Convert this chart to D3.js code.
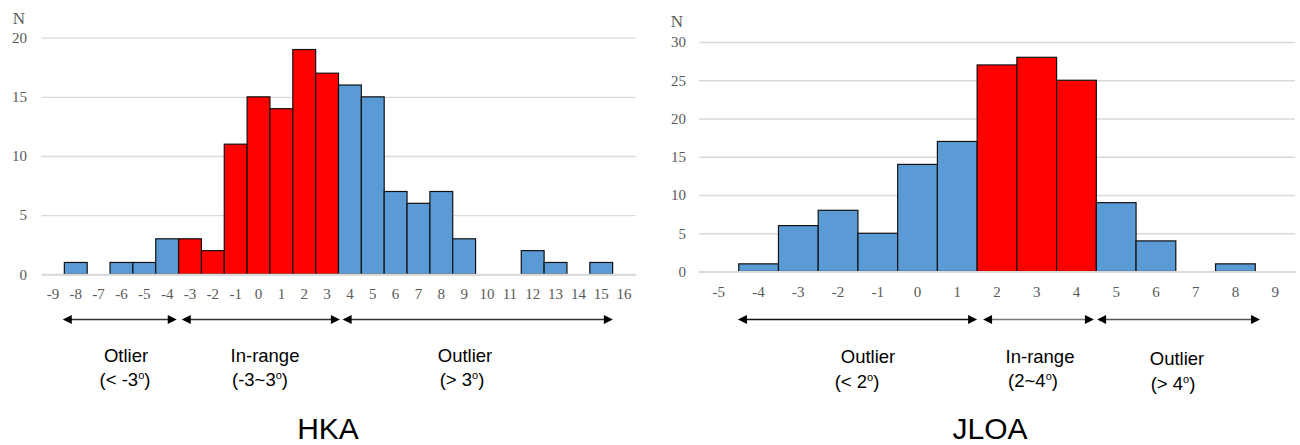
<!DOCTYPE html>
<html>
<head>
<meta charset="utf-8">
<script src="https://cdn.jsdelivr.net/npm/d3@7"></script>
<style>
  body { margin: 0; background: #fff; }
  svg { display: block; }
</style>
</head>
<body>
<svg id="chart" width="1300" height="445"></svg>
<script>
// HKA histogram
const hkaBins = [-9, -8, -7, -6, -5, -4, -3, -2, -1, 0, 1, 2, 3, 4, 5, 6, 7, 8, 9, 10, 11, 12, 13, 14, 15, 16];
const hkaCounts = [0, 1, 0, 1, 1, 3, 3, 2, 11, 15, 14, 19, 17, 16, 15, 7, 6, 7, 3, 0, 0, 2, 1, 0, 1, 0];
const hkaInRange = [-3, 3];
const hkaTicks = [0, 5, 10, 15, 20];

// JLOA histogram
const jloaBins = [-5, -4, -3, -2, -1, 0, 1, 2, 3, 4, 5, 6, 7, 8, 9];
const jloaCounts = [0, 1, 6, 8, 5, 14, 17, 27, 28, 25, 9, 4, 0, 1, 0];
const jloaInRange = [2, 4];
const jloaTicks = [0, 5, 10, 15, 20, 25, 30];

const svg = d3.select('#chart');
const serif = '"Liberation Serif", "Times New Roman", serif';
const sans = '"Liberation Sans", Arial, sans-serif';

function histogram(cfg) {
  const x = d3.scaleBand()
    .domain(cfg.bins)
    .range(cfg.xRange)
    .padding(0);
  const y = d3.scaleLinear()
    .domain([0, d3.max(cfg.ticks)])
    .range(cfg.yRange);
  // bin value -> pixel, bin centre at value
  const last = cfg.bins[cfg.bins.length - 1];
  const xv = d3.scaleLinear()
    .domain([cfg.bins[0], last])
    .range([x(cfg.bins[0]) + x.bandwidth() / 2, x(last) + x.bandwidth() / 2]);

  const g = svg.append('g');
  const width = cfg.xRange[1] - cfg.xRange[0];

  // gridlines + y labels
  const yAxis = g.append('g')
    .attr('transform', 'translate(' + cfg.xRange[0] + ',0)')
    .call(d3.axisLeft(y).tickValues(cfg.ticks).tickSize(-width).tickPadding(cfg.yPad));
  yAxis.select('.domain').remove();
  yAxis.selectAll('line').attr('stroke', '#d9d9d9').attr('stroke-width', 1.3);
  yAxis.selectAll('text')
    .attr('fill', '#595959')
    .style('font-family', serif)
    .style('font-size', '15px');

  // bars
  const data = cfg.bins.map((b, i) => ({ bin: b, n: cfg.counts[i] }));
  g.selectAll('.bar')
    .data(data.filter(d => d.n > 0))
    .enter().append('rect')
    .attr('x', d => x(d.bin))
    .attr('width', x.bandwidth())
    .attr('y', d => y(d.n))
    .attr('height', d => y(0) - y(d.n))
    .attr('fill', d => (d.bin >= cfg.inRange[0] && d.bin <= cfg.inRange[1]) ? '#ff0000' : '#5b9bd5')
    .attr('stroke', '#111')
    .attr('stroke-width', 1.2);

  // x axis
  const xAxis = g.append('g')
    .attr('transform', 'translate(0,' + y(0) + ')')
    .call(d3.axisBottom(x).tickSize(0).tickPadding(cfg.xPad));
  xAxis.select('.domain')
    .attr('stroke', '#d9d9d9')
    .attr('stroke-width', 2);
  xAxis.selectAll('text')
    .attr('fill', '#595959')
    .style('font-family', serif)
    .style('font-size', '15px');

  // N label
  g.append('text')
    .attr('x', cfg.nPos[0]).attr('y', cfg.nPos[1])
    .attr('text-anchor', 'middle')
    .attr('fill', '#595959')
    .style('font-family', serif)
    .style('font-size', '17px')
    .text('N');

  // range arrows
  cfg.arrows.forEach(a => {
    const x0 = xv(a.span[0]), x1 = xv(a.span[1]);
    const ay = cfg.arrowY;
    g.append('line')
      .attr('x1', x0 + 6).attr('x2', x1 - 6)
      .attr('y1', ay).attr('y2', ay)
      .attr('stroke', a.color)
      .attr('stroke-width', 1.3);
    g.append('path')
      .attr('d', `M${x0},${ay} L${x0 + 9},${ay - 4.5} L${x0 + 9},${ay + 4.5} Z`)
      .attr('fill', '#000');
    g.append('path')
      .attr('d', `M${x1},${ay} L${x1 - 9},${ay - 4.5} L${x1 - 9},${ay + 4.5} Z`)
      .attr('fill', '#000');

    const lbl = g.append('g')
      .style('font-family', sans)
      .style('font-size', '18.5px')
      .attr('fill', '#000')
      .attr('text-anchor', 'middle');
    lbl.append('text')
      .attr('x', a.label[0]).attr('y', a.label[1])
      .text(a.title);
    const t2 = lbl.append('text')
      .attr('x', a.sub[0]).attr('y', a.sub[1]);
    t2.append('tspan').text(a.range);
    t2.append('tspan').attr('dy', -7).style('font-size', '11px').text('o');
    t2.append('tspan').attr('dy', 7).text(')');
  });

  // panel title
  g.append('text')
    .attr('x', cfg.titlePos[0]).attr('y', cfg.titlePos[1])
    .attr('text-anchor', 'middle')
    .style('font-family', sans)
    .style('font-size', '30px')
    .attr('fill', '#000')
    .text(cfg.title);
}

histogram({
  bins: hkaBins, counts: hkaCounts, ticks: hkaTicks, inRange: hkaInRange,
  xRange: [41.5, 635.5], yRange: [274.3, 37.7],
  yPad: 14.5, xPad: 14, nPos: [19, 24],
  arrowY: 319.5,
  arrows: [
    { span: [-8.57, -3.58], color: '#333', title: 'Otlier', range: '(< -3', label: [126, 362], sub: [125, 386] },
    { span: [-3.36, 3.56], color: '#333', title: 'In-range', range: '(-3~3', label: [265, 362], sub: [260, 386] },
    { span: [3.68, 15.51], color: '#333', title: 'Outlier', range: '(> 3', label: [465, 362], sub: [462, 386] }
  ],
  title: 'HKA', titlePos: [328, 439]
});

histogram({
  bins: jloaBins, counts: jloaCounts, ticks: jloaTicks, inRange: jloaInRange,
  xRange: [699, 1295], yRange: [271.5, 42],
  yPad: 13, xPad: 15, nPos: [677, 27],
  arrowY: 319.5,
  arrows: [
    { span: [-4.52, 1.5], color: '#111', title: 'Outlier', range: '(< 2', label: [868, 363], sub: [857, 388] },
    { span: [1.65, 4.44], color: '#777', title: 'In-range', range: '(2~4', label: [1040, 363], sub: [1033, 387] },
    { span: [4.52, 8.62], color: '#555', title: 'Outlier', range: '(> 4', label: [1177, 365], sub: [1173, 390] }
  ],
  title: 'JLOA', titlePos: [990, 439]
});
</script>
</body>
</html>
